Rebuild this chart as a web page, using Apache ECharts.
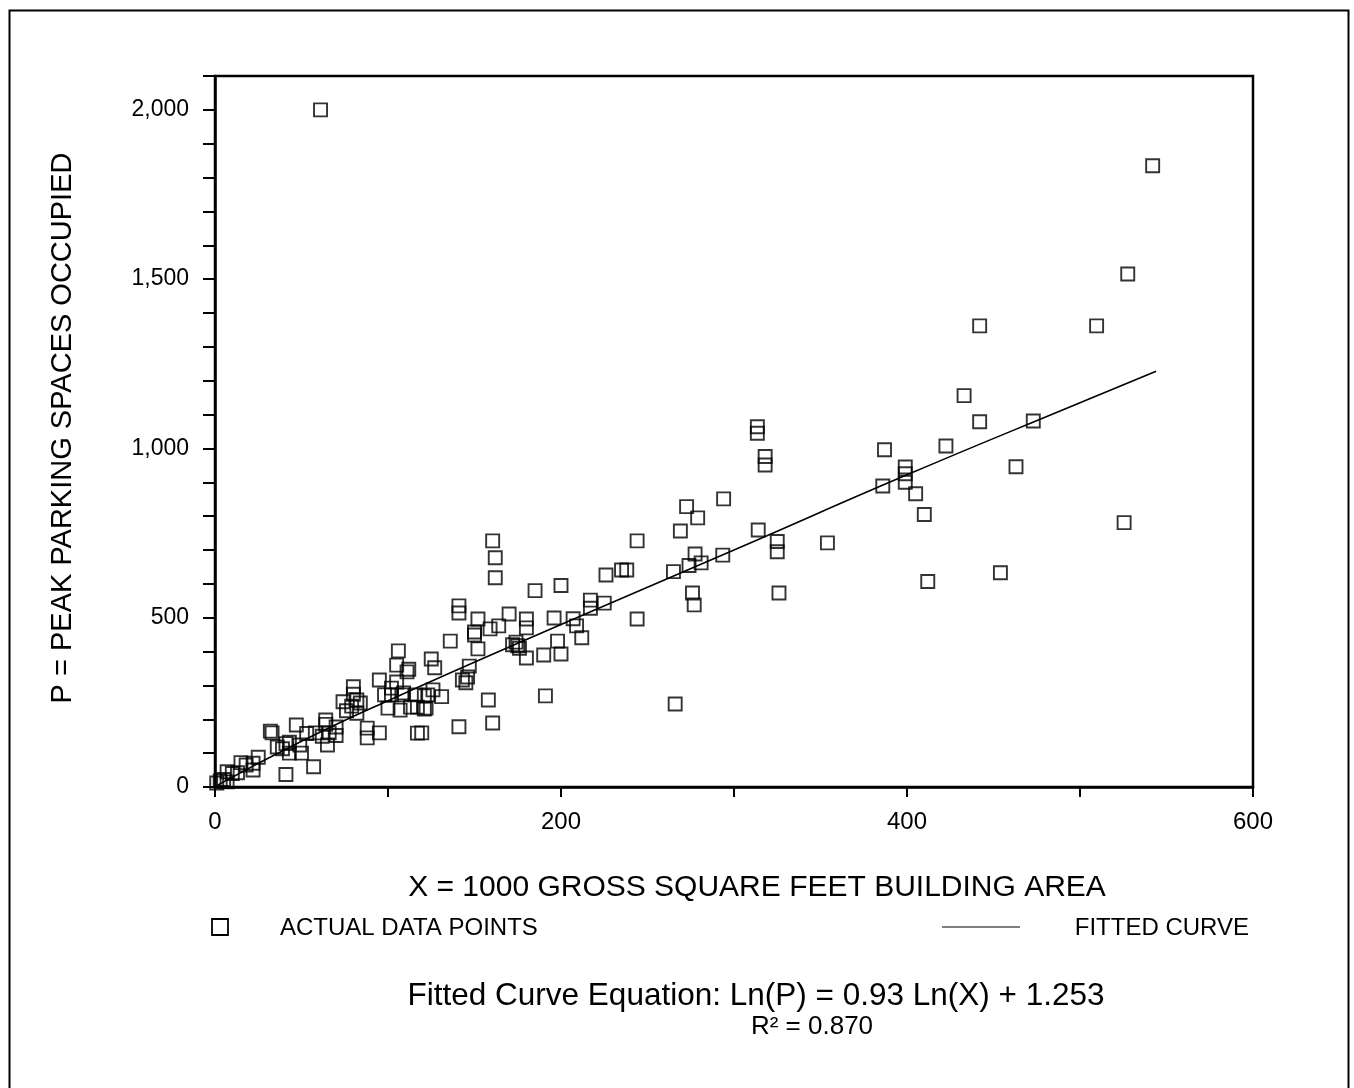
<!DOCTYPE html>
<html>
<head>
<meta charset="utf-8">
<script src="https://cdn.jsdelivr.net/npm/echarts@6/dist/echarts.min.js"></script>
<style>
html,body{margin:0;padding:0;background:#fff;}
#chart{width:1354px;height:1088px;}
</style>
</head>
<body>
<div id="chart"></div>
<script>
// Actual data points: X = 1000 GSF building area, P = peak parking spaces occupied
var pointsX = [1,3,5,7,7,10,13,15,18,22,22,25,32,33,36,39,41,43,43,41,47,49,50,53,57,58,62,64,64,65,66,70,70,74,76,79,80,80,82,82,84,88,88,95,95,98,100,102,102,105,106,105,107,108,109,111,112,113,116,117,117,121,122,123,125,126,127,131,
  119.5,121,136,141,141,141,143,146,147,145,150,150,152,152,158,159,160.5,160.5,162,162,164,170,172,174,176,175,180,180,180,185,190,191,196,198,200,200,207,209,212,217,217,225,226,235,238,244,244,
  265,266,269,272.6,274,276,277,277.5,279,281,293.5,294,313.5,313.5,314,318,318,325,325,326,354,386,387,399,399,399,405,410,412,422.5,433,442,442,454,463,473,509.6,525.5,527.6,542,61];
var pointsP = [12,18,22,15,45,40,42,72,65,70,50,88,165,160,118,113,128,100,132,37,183,124,100,158,60,160,150,185,198,124,160,177,152,252,225,239,296,274,257,218,248,174,145,160,316,272,233,292,272,310,402,360,227,272,278,340,348,236,272,159,236,269,233,272,378,287,352,267,
  160,230,431,535,514,178,316,325,357,308,458,449,496,408,257,467,727,189,677,618,476,511,420,428,410,417,496,470,381,580,390,269,499,431,393,595,497,476,441,552,528,543,626,641,641,727,496,
  636,245,756,828,654,573,538,688,795,662,685,851,1064,1045,759,976,951,725,695,573,721,889,996,945,925,900,866,805,607,1007,1156,1362,1079,633,946,1081,1362,781,1515,1835,2000];

// Fitted curve, points
var curveX = [1, 50, 100, 200, 300, 400, 500, 544];
var curveP = [4, 135, 255, 480, 700, 922, 1135, 1228];

var xTicks = [0, 200, 400, 600];
var yTicks = [0, 500, 1000, 1500, 2000];

var scatterData = pointsX.map(function(x, i){ return [x, pointsP[i]]; });
var curveData = curveX.map(function(x, i){ return [x, curveP[i]]; });

var FONT = '"Liberation Sans", Arial, sans-serif';
var chart = echarts.init(document.getElementById('chart'), null, {renderer: 'canvas'});

var option = {
  backgroundColor: '#fff',
  animation: false,
  grid: {left: 215, right: 101, top: 76, bottom: 301, show: true, borderColor: '#000', borderWidth: 2.5, backgroundColor: 'transparent'},
  xAxis: {
    type: 'value', min: 0, max: 600, interval: 100,
    axisLine: {show: true, lineStyle: {color: '#000', width: 2.5}},
    axisTick: {show: true, inside: false, length: 10, lineStyle: {color: '#000', width: 2}},
    splitLine: {show: false},
    axisLabel: {margin: 23, color: '#000', fontSize: 24, fontFamily: FONT,
      formatter: function(v){ return xTicks.indexOf(v) >= 0 ? String(v) : ''; }}
  },
  yAxis: {
    type: 'value', min: 0, max: 2100, interval: 100,
    axisLine: {show: true, lineStyle: {color: '#000', width: 2.5}},
    axisTick: {show: true, inside: false, length: 12, lineStyle: {color: '#000', width: 2}},
    splitLine: {show: false},
    axisLabel: {margin: 26, color: '#000', fontSize: 23, fontFamily: FONT,
      formatter: function(v){ return yTicks.indexOf(v) >= 0 ? v.toLocaleString('en-US') : ''; }}
  },
  series: [
    {
      name: 'ACTUAL DATA POINTS', type: 'scatter', data: scatterData,
      symbol: 'rect', symbolSize: 13,
      itemStyle: {color: 'rgba(255,255,255,0)', borderColor: '#000', borderWidth: 1.9},
      z: 3
    },
    {
      name: 'FITTED CURVE', type: 'line', data: curveData, smooth: true,
      showSymbol: false, symbol: 'none',
      lineStyle: {color: '#000', width: 1.6},
      z: 2
    }
  ],
  graphic: [
    {type: 'rect', left: 7, top: 8, shape: {width: 1339, height: 1079}, style: {fill: 'none', stroke: '#000', lineWidth: 2}, silent: true},
    {type: 'text', x: 63, y: 428, rotation: Math.PI / 2,
      style: {text: 'P = PEAK PARKING SPACES OCCUPIED', font: '29px ' + FONT, fill: '#000', textAlign: 'center', textVerticalAlign: 'middle'}},
    {type: 'text', style: {text: 'X = 1000 GROSS SQUARE FEET BUILDING AREA', font: '30px ' + FONT, fill: '#000', textAlign: 'center', textVerticalAlign: 'middle'}, x: 757, y: 888},
    {type: 'rect', shape: {x: 212, y: 919, width: 16, height: 16}, style: {fill: 'none', stroke: '#000', lineWidth: 1.8}},
    {type: 'text', style: {text: 'ACTUAL DATA POINTS', font: '24px ' + FONT, fill: '#000', textAlign: 'left', textVerticalAlign: 'middle'}, x: 280, y: 928},
    {type: 'line', shape: {x1: 942, y1: 927, x2: 1020, y2: 927}, style: {stroke: '#000', lineWidth: 1.2}},
    {type: 'text', style: {text: 'FITTED CURVE', font: '24px ' + FONT, fill: '#000', textAlign: 'right', textVerticalAlign: 'middle'}, x: 1249, y: 928},
    {type: 'text', style: {text: 'Fitted Curve Equation: Ln(P) = 0.93 Ln(X) + 1.253', font: '31.5px ' + FONT, fill: '#000', textAlign: 'center', textVerticalAlign: 'middle'}, x: 756, y: 996},
    {type: 'text', style: {text: 'R² = 0.870', font: '26px ' + FONT, fill: '#000', textAlign: 'center', textVerticalAlign: 'middle'}, x: 812, y: 1027}
  ]
};
chart.setOption(option);
</script>
</body>
</html>
